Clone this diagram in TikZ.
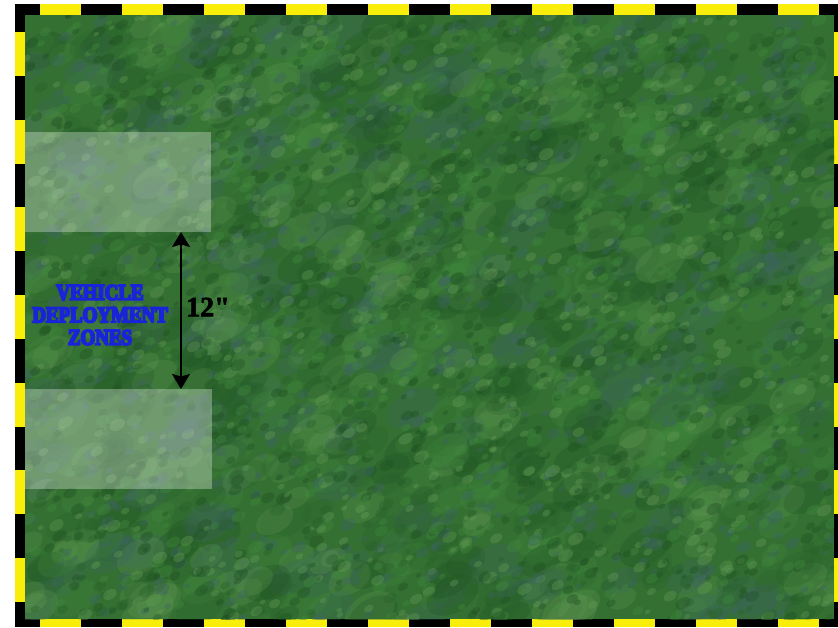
\documentclass[tikz,border=0pt]{standalone}
\usepackage{fontspec}
\setmainfont{Liberation Serif}
\newfontfamily\dzfont[FakeBold=8,FakeStretch=0.84]{Liberation Serif}
\newfontfamily\distfont[FakeBold=2]{Liberation Serif}
\usetikzlibrary{arrows.meta}
\definecolor{gbase}{RGB}{52,112,50}
\definecolor{gc0}{RGB}{30,80,34}
\definecolor{gc1}{RGB}{100,154,86}
\definecolor{gc2}{RGB}{66,138,62}
\definecolor{gc3}{RGB}{62,100,100}
\definecolor{gc4}{RGB}{40,96,42}
\definecolor{ylw}{RGB}{248,238,10}
\definecolor{dzblue}{RGB}{25,35,215}
\tikzset{
  zone/.style={fill=white, fill opacity=0.3, draw=none, inner sep=0pt, outer sep=0pt, anchor=north west},
  arrowline/.style={line width=2pt, {Stealth[width=18pt,length=15pt,inset=2.5pt]}-{Stealth[width=18pt,length=15pt,inset=2.5pt]}},
  dist/.style={font=\distfont\bfseries\fontsize{28}{30}\selectfont, text=black, inner sep=0pt},
  dzlabel/.style={font=\dzfont\bfseries\fontsize{22.5}{22.5}\selectfont, text=dzblue, align=center, inner sep=0pt}
}
\begin{document}
\begin{tikzpicture}[x=1pt,y=-1pt]
\useasboundingbox (0,0) rectangle (838,627);
\fill[white] (0,0) rectangle (838,627);
% frame
\fill[black] (15,4) rectangle (838,627);
\foreach \k in {0,...,9}{
  \fill[ylw] ({40+82*\k},4) rectangle ++(41,11);
  \fill[ylw] ({40+82*\k},619) rectangle ++(41,8);
}
\foreach \k in {0,...,6}{
  \fill[ylw] (15,{32+87.67*\k}) rectangle ++(10,44);
  \fill[ylw] (834,{32+87.67*\k}) rectangle ++(4,44);
}
% field texture
\begin{scope}
\clip (25,15) rectangle (834,619);
\fill[gbase] (25,15) rectangle (834,619);
\pgfmathsetseed{7}
\foreach \i in {1,...,900}{
  \pgfmathsetmacro\px{25+809*rnd}
  \pgfmathsetmacro\py{15+604*rnd}
  \pgfmathsetmacro\rr{8+10*rnd}
  \pgfmathtruncatemacro\c{int(4.99*rnd)}
  \fill[fill=gc\c, opacity=0.25, rotate around={30:(\px,\py)}] (\px,\py) ellipse ({\rr*1.6} and {\rr});
}
\foreach \i in {1,...,2800}{
  \pgfmathsetmacro\px{25+809*rnd}
  \pgfmathsetmacro\py{15+604*rnd}
  \pgfmathsetmacro\rr{2+3.5*rnd}
  \pgfmathtruncatemacro\c{int(4.99*rnd)}
  \fill[fill=gc\c, opacity=0.38, rotate around={30:(\px,\py)}] (\px,\py) ellipse ({\rr*1.5} and {\rr});
}
\end{scope}
% deployment zones
\node[zone, minimum width=186pt, minimum height=100pt] (zoneA) at (25,132) {};
\node[zone, minimum width=187pt, minimum height=100pt] (zoneB) at (25,389) {};
\coordinate (ax) at (181,0);
\draw[arrowline] (zoneA.south -| ax) -- (zoneB.north -| ax);
\node[dist] (twelve) at (208,307) {12"};
\node[dzlabel] (dzl) at (100,315) {VEHICLE\\DEPLOYMENT\\ZONES};
\end{tikzpicture}
\end{document}
